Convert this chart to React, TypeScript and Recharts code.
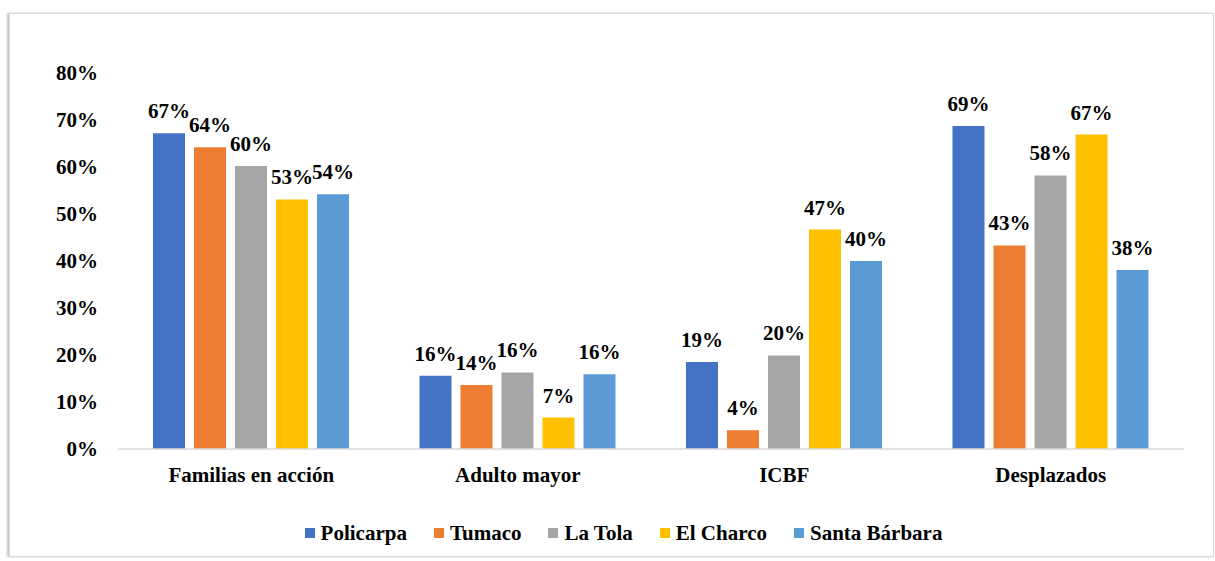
import { BarChart, Bar, XAxis, YAxis, Legend, LabelList } from "recharts";

const categories = ["Familias en acción", "Adulto mayor", "ICBF", "Desplazados"];
const policarpa = [67.2, 15.6, 18.5, 68.7];
const tumaco = [64.2, 13.6, 4.0, 43.3];
const laTola = [60.2, 16.3, 19.9, 58.2];
const elCharco = [53.1, 6.7, 46.7, 66.9];
const santaBarbara = [54.2, 15.9, 40.0, 38.1];
const yTicks = [0, 10, 20, 30, 40, 50, 60, 70, 80];

const series = [
  { key: "policarpa", name: "Policarpa", color: "#4472C4", values: policarpa },
  { key: "tumaco", name: "Tumaco", color: "#ED7D31", values: tumaco },
  { key: "laTola", name: "La Tola", color: "#A5A5A5", values: laTola },
  { key: "elCharco", name: "El Charco", color: "#FFC000", values: elCharco },
  { key: "santaBarbara", name: "Santa Bárbara", color: "#5B9BD5", values: santaBarbara },
];

const data = categories.map((c, i) => {
  const row: any = { category: c };
  series.forEach((s) => (row[s.key] = s.values[i]));
  return row;
});

const font = "Liberation Serif, Times New Roman, serif";
const textStyle = { fontFamily: font, fontWeight: 700, fontSize: 21, fill: "#000" };

// legend drawn in series order, square + name
const renderLegend = () => (
  <div style={{ display: "flex", justifyContent: "center", fontFamily: font, fontWeight: 700, fontSize: 21, color: "#000", lineHeight: "24px", paddingLeft: 52 }}>
    {series.map((s) => (
      <div key={s.key} style={{ display: "flex", alignItems: "center", marginRight: 27 }}>
        <span style={{ width: 10, height: 10, background: s.color, display: "inline-block", marginRight: 6 }} />
        <span>{s.name}</span>
      </div>
    ))}
  </div>
);

const App = () => {
  return (
    <div
      style={{
        position: "absolute",
        left: 9,
        top: 13,
        width: 1203,
        height: 542,
        border: "1px solid #d9d9d9",
        boxShadow: "-2px 0 2px #c8c8c8",
        background: "#fff",
      }}
    >
      <BarChart
        width={1202}
        height={542}
        data={data}
        barSize={32}
        barGap={9}
        margin={{ top: 59, right: 28, left: 0, bottom: 0 }}
      >
        <YAxis
          width={108}
          domain={[0, 80]}
          ticks={yTicks}
          tickFormatter={(v) => `${v}%`}
          axisLine={false}
          tickLine={false}
          tickSize={0}
          tickMargin={20}
          tick={textStyle}
        />
        <XAxis
          dataKey="category"
          axisLine={{ stroke: "#d9d9d9", strokeWidth: 1.5 }}
          tickLine={false}
          tickMargin={12}
          height={83}
          tick={textStyle}
        />
        <Legend
          verticalAlign="bottom"
          content={renderLegend}
          wrapperStyle={{ top: 507, bottom: "auto", left: 0, width: 1202 }}
        />
        {series.map((s) => (
          <Bar key={s.key} dataKey={s.key} name={s.name} fill={s.color} isAnimationActive={false}>
            <LabelList
              dataKey={s.key}
              position="top"
              offset={15}
              formatter={(v: any) => `${Math.round(v)}%`}
              style={textStyle}
            />
          </Bar>
        ))}
      </BarChart>
    </div>
  );
};

export default App;
